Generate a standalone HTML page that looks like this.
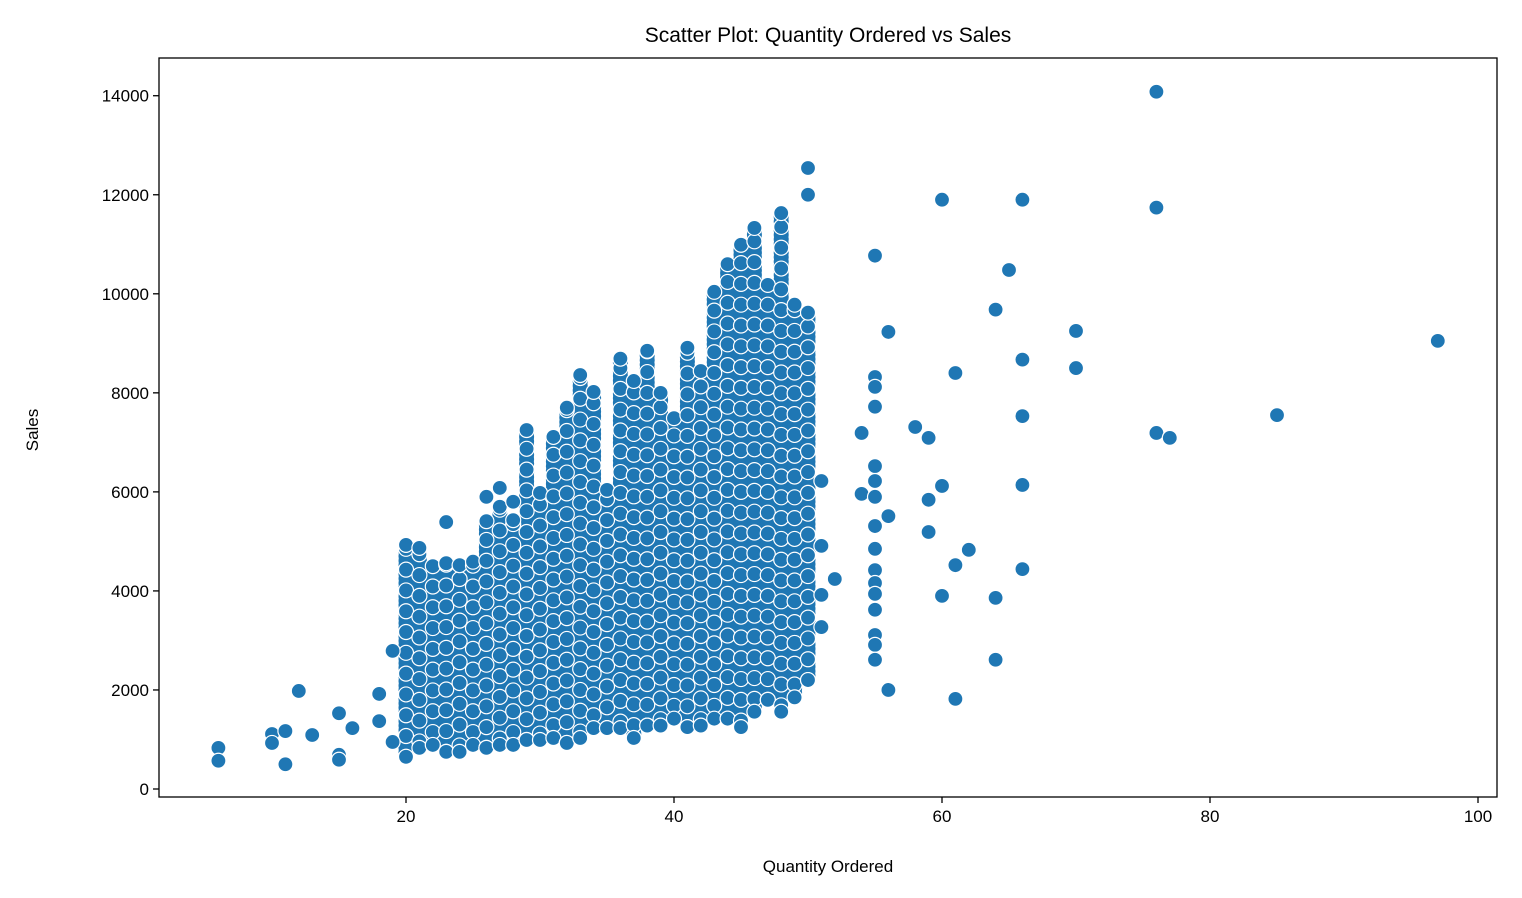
<!DOCTYPE html>
<html><head><meta charset="utf-8"><style>
body{margin:0;background:#fff;font-family:"Liberation Sans","DejaVu Sans",sans-serif;}
svg{display:block}
</style></head><body>
<svg id="chart" width="1522" height="898">
<text x="828" y="42" font-size="21" text-anchor="middle">Scatter Plot: Quantity Ordered vs Sales</text>
<text x="828" y="872" font-size="17" text-anchor="middle">Quantity Ordered</text>
<text x="38" y="430" font-size="17" text-anchor="middle" transform="rotate(-90 38 430)">Sales</text>
<g id="points"></g>
<g id="axes"></g>
</svg>
<script>
// Dense columns: quantity, min sales, max sales
const colQty = [20,21,22,23,24,25,26,27,28,29,30,31,32,33,34,35,36,37,38,39,40,41,42,43,44,45,46,47,48,49,50];
const colMin = [650,830,890,750,750,890,830,890,890,990,990,1030,930,1030,1230,1230,1230,1030,1280,1280,1420,1250,1280,1420,1420,1250,1560,1800,1560,1850,2200];
const colMax = [4930,4870,4500,4560,4520,4590,5410,5700,5430,7250,5980,7110,7700,8360,8020,6040,8690,8240,8850,8000,7490,8910,8440,10040,10600,10990,11330,10180,11630,9780,9620];
// Individual points: quantity, sales
const ptQty = [6,6,10,10,11,11,12,13,15,15,15,16,18,18,19,19,23,26,27,28,50,50,51,51,51,51,52,54,54,55,55,55,55,55,55,55,55,55,55,55,55,55,55,55,55,56,56,56,58,59,59,59,60,60,60,61,61,61,62,64,64,64,65,66,66,66,66,66,70,70,76,76,76,77,85,97];
const ptSales = [830,570,1110,930,1170,500,1980,1090,1530,690,590,1230,1920,1370,950,2790,5390,5900,6080,5800,12540,12000,6220,4910,3920,3270,4240,7190,5960,10770,8320,8120,7720,6520,6220,5900,5310,4850,4420,4160,3940,3620,3110,2910,2610,9230,5510,2000,7310,7090,5840,5190,11900,6120,3900,8400,4520,1820,4830,9680,3860,2610,10480,11900,8670,7530,6140,4440,9250,8500,14080,11740,7190,7090,7550,9050];
const xTicks = [20,40,60,80,100];
const yTicks = [0,2000,4000,6000,8000,10000,12000,14000];

const X0=159,X1=1497,Y0=58,Y1=797;
const xs = v => 138 + v*13.4;
const ys = v => 789 - v*0.04952;
const NS='http://www.w3.org/2000/svg';
const gp=document.getElementById('points'), ga=document.getElementById('axes');
function dot(q,s,stroke){
  const c=document.createElementNS(NS,'circle');
  c.setAttribute('cx',xs(q));c.setAttribute('cy',ys(s));c.setAttribute('r',7.5);
  c.setAttribute('fill','#1f77b4');
  if(stroke){c.setAttribute('stroke','#fff');c.setAttribute('stroke-width','1.2');}
  
  
  gp.appendChild(c);
}
for(let i=0;i<colQty.length;i++){
  for(let s=colMin[i]; s<=colMax[i]; s+=90) dot(colQty[i],s,false);
}
for(let i=0;i<colQty.length;i++){
  const off=(i%3)*130;
  for(let s=colMin[i]+off; s<=colMax[i]; s+=420) dot(colQty[i],s,true);
  dot(colQty[i],colMin[i],true);
  dot(colQty[i],colMax[i],true);
}
for(let i=0;i<ptQty.length;i++) dot(ptQty[i],ptSales[i],true);

const fr=document.createElementNS(NS,'rect');
fr.setAttribute('x',X0);fr.setAttribute('y',Y0);fr.setAttribute('width',X1-X0);fr.setAttribute('height',Y1-Y0);
fr.setAttribute('fill','none');fr.setAttribute('stroke','#000');fr.setAttribute('stroke-width','1.3');


ga.appendChild(fr);
xTicks.forEach(t=>{
  const l=document.createElementNS(NS,'line');
  l.setAttribute('x1',xs(t));l.setAttribute('x2',xs(t));l.setAttribute('y1',Y1);l.setAttribute('y2',Y1+6);l.setAttribute('stroke','#000');l.setAttribute('stroke-width','1.3');
  
  
  ga.appendChild(l);
  const tx=document.createElementNS(NS,'text');
  tx.setAttribute('x',xs(t));tx.setAttribute('y',Y1+25);tx.setAttribute('font-size','17');tx.setAttribute('text-anchor','middle');
  tx.textContent=t;
  
  
  ga.appendChild(tx);
});
yTicks.forEach(t=>{
  const l=document.createElementNS(NS,'line');
  l.setAttribute('x1',X0-6);l.setAttribute('x2',X0);l.setAttribute('y1',ys(t));l.setAttribute('y2',ys(t));l.setAttribute('stroke','#000');l.setAttribute('stroke-width','1.3');
  
  
  ga.appendChild(l);
  const tx=document.createElementNS(NS,'text');
  tx.setAttribute('x',X0-10);tx.setAttribute('y',ys(t)+6);tx.setAttribute('font-size','17');tx.setAttribute('text-anchor','end');
  tx.textContent=t;
  
  
  ga.appendChild(tx);
});
</script>
</body></html>
